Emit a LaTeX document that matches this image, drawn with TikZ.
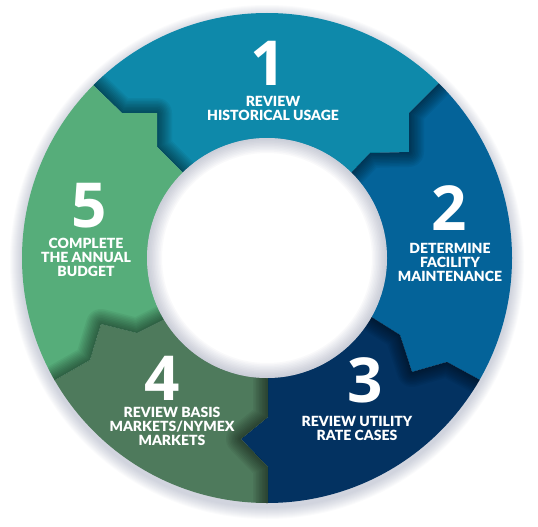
\documentclass[tikz,border=0pt]{standalone}
\usepackage{fontspec}
\setmainfont{Lato}[BoldFont={Lato Black}]
\newfontfamily\numfont{Open Sans}
\definecolor{stepone}{RGB}{14,137,170}
\definecolor{steptwo}{RGB}{4,99,153}
\definecolor{stepthree}{RGB}{3,50,97}
\definecolor{stepfour}{RGB}{78,122,92}
\definecolor{stepfive}{RGB}{86,173,122}
\definecolor{haze}{RGB}{110,120,150}
\tikzset{
  num/.style={text=white, font=\numfont\bfseries\fontsize{62}{62}\selectfont, inner sep=0pt, anchor=base},
  lbl/.style={text=white, font=\bfseries\fontsize{14}{14}\selectfont, align=center, inner sep=0pt, anchor=north},
  edgeshade/.style={line width=#1, black, opacity=0.05, line join=round}
}
\begin{document}
\begin{tikzpicture}[x=1pt,y=-1pt]
  \useasboundingbox (0,0) rectangle (538,527);
  \coordinate (c) at (267,258);
  % 5 | 1
  \coordinate (a0) at (200,190); \coordinate (a1) at (157,147); \coordinate (a2) at (157,113);
  \coordinate (a3) at (122,113); \coordinate (a4) at (93,85);   \coordinate (a5) at (60,53);
  % 1 | 2
  \coordinate (b0) at (334,191); \coordinate (b1) at (370,153); \coordinate (b2) at (409,152);
  \coordinate (b3) at (409,113); \coordinate (b4) at (438,84);  \coordinate (b5) at (470,52);
  % 2 | 3
  \coordinate (d0) at (346,301); \coordinate (d1) at (400,335); \coordinate (d2) at (412,372);
  \coordinate (d3) at (447,362); \coordinate (d4) at (480,380); \coordinate (d5) at (520,402);
  % 3 | 4
  \coordinate (e0) at (268,300); \coordinate (e1) at (268,417); \coordinate (e2) at (241,439);
  \coordinate (e3) at (268,467); \coordinate (e4) at (268,560);
  % 4 | 5
  \coordinate (f0) at (189,307); \coordinate (f1) at (137,333); \coordinate (f2) at (101,324);
  \coordinate (f3) at (90,360);  \coordinate (f4) at (55,380);  \coordinate (f5) at (20,400);

  % soft shadow round the ring
  \foreach \r in {1,...,12}
    \fill[haze, opacity=0.03] ([yshift=-4pt]c) circle ({245pt+\r*1pt});

  \begin{scope}
    \clip (c) circle (245pt);
    \begin{scope}
      \clip (c) -- (a0) -- (a1) -- (a2) -- (a3) -- (a4) -- (a5) -- (60,-40) -- (470,-40)
        -- (b5) -- (b4) -- (b3) -- (b2) -- (b1) -- (b0) -- cycle;
      \fill[stepone] (c) circle (250pt);
      \foreach \w in {3,6,...,30}
        \draw[edgeshade=\w] (a5) -- (a4) -- (a3) -- (a2) -- (a1) -- (a0);
    \end{scope}
    \begin{scope}
      \clip (c) -- (b0) -- (b1) -- (b2) -- (b3) -- (b4) -- (b5) -- (560,52) -- (560,420)
        -- (d5) -- (d4) -- (d3) -- (d2) -- (d1) -- (d0) -- cycle;
      \fill[steptwo] (c) circle (250pt);
      \foreach \w in {3,6,...,30}
        \draw[edgeshade=\w] (b5) -- (b4) -- (b3) -- (b2) -- (b1) -- (b0);
    \end{scope}
    \begin{scope}
      \clip (c) -- (d0) -- (d1) -- (d2) -- (d3) -- (d4) -- (d5) -- (560,560)
        -- (e4) -- (e3) -- (e2) -- (e1) -- (e0) -- cycle;
      \fill[stepthree] (c) circle (250pt);
      \foreach \w in {3,6,...,30}
        \draw[edgeshade=\w] (d5) -- (d4) -- (d3) -- (d2) -- (d1) -- (d0);
    \end{scope}
    \begin{scope}
      \clip (c) -- (e0) -- (e1) -- (e2) -- (e3) -- (e4) -- (-30,560)
        -- (f5) -- (f4) -- (f3) -- (f2) -- (f1) -- (f0) -- cycle;
      \fill[stepfour] (c) circle (250pt);
      \foreach \w in {3,6,...,30}
        \draw[edgeshade=\w] (e4) -- (e3) -- (e2) -- (e1) -- (e0);
    \end{scope}
    \begin{scope}
      \clip (c) -- (f0) -- (f1) -- (f2) -- (f3) -- (f4) -- (f5) -- (-30,400) -- (-30,53)
        -- (a5) -- (a4) -- (a3) -- (a2) -- (a1) -- (a0) -- cycle;
      \fill[stepfive] (c) circle (250pt);
      \foreach \w in {3,6,...,30}
        \draw[edgeshade=\w] (f5) -- (f4) -- (f3) -- (f2) -- (f1) -- (f0);
    \end{scope}
  \end{scope}

  % hole
  \fill[white] (c) circle (120pt);
  \begin{scope}
    \clip (c) circle (120pt);
    \foreach \w in {3,6,...,30}
      \draw[haze, line width=\w, opacity=0.04] (c) circle (120pt);
  \end{scope}

  \node[num] (n1) at (268,85) {1};
  \node[lbl] (t1) at (273,96) {REVIEW\\HISTORICAL USAGE};
  \node[num] (n2) at (449,230) {2};
  \node[lbl] (t2) at (450,243) {DETERMINE\\FACILITY\\MAINTENANCE};
  \node[num] (n3) at (365,402) {3};
  \node[lbl] (t3) at (357,416) {REVIEW UTILITY\\RATE CASES};
  \node[num] (n4) at (162,400) {4};
  \node[lbl] (t4) at (172,407) {REVIEW BASIS\\MARKETS/NYMEX\\MARKETS};
  \node[num] (n5) at (89,227) {5};
  \node[lbl] (t5) at (86,238) {COMPLETE\\THE ANNUAL\\BUDGET};
\end{tikzpicture}
\end{document}
